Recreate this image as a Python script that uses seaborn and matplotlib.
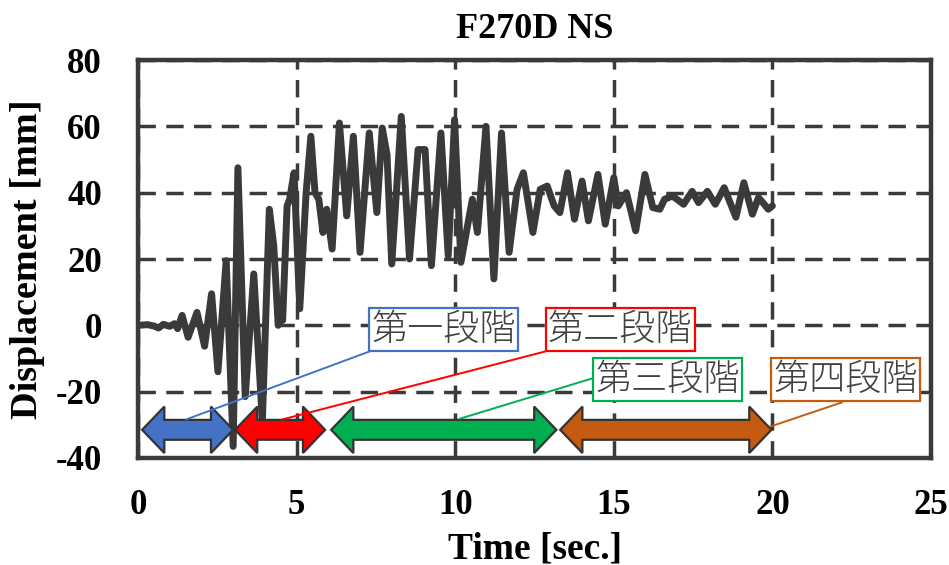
import matplotlib
matplotlib.use("Agg")
import matplotlib.pyplot as plt
import seaborn as sns
import pandas as pd
from matplotlib.patches import Polygon

# ---------------- data ----------------
time_s = [0.0, 0.3, 0.5, 0.65, 0.8, 1.0, 1.15, 1.25, 1.39, 1.58, 1.86, 2.1, 2.32, 2.52,
          2.78, 3.0, 3.15, 3.38, 3.65, 3.92, 4.14, 4.28, 4.42, 4.5, 4.56, 4.7, 4.78, 4.92,
          5.1, 5.3, 5.45, 5.58, 5.7, 5.83, 5.95, 6.12, 6.35, 6.58, 6.79, 7.0, 7.29, 7.53,
          7.7, 7.85, 8.0, 8.3, 8.56, 8.83, 9.05, 9.25, 9.55, 9.78, 9.98, 10.18, 10.54,
          10.7, 10.97, 11.22, 11.46, 11.7, 11.95, 12.15, 12.45, 12.68, 12.9, 13.12, 13.3,
          13.54, 13.76, 14.0, 14.2, 14.5, 14.73, 15.0, 15.14, 15.4, 15.69, 15.98, 16.23,
          16.45, 16.6, 16.85, 17.2, 17.47, 17.67, 17.95, 18.2, 18.48, 18.85, 19.1, 19.37,
          19.56, 19.7, 19.87, 20.0]
disp_mm = [0.0, 0.2, -0.2, -0.8, 0.3, -0.3, 0.5, -1.0, 3.0, -3.6, 3.9, -6.3, 9.5, -14.0,
           19.5, -36.5, 47.5, -21.5, 15.5, -29.0, 35.0, 24.0, 0.0, 3.0, 1.5, 36.0, 38.0, 46.0,
           5.0, 40.0, 57.0, 40.0, 38.0, 28.0, 35.0, 23.0, 61.0, 33.0, 57.0, 22.0, 58.0, 34.0,
           59.5, 51.5, 18.5, 63.0, 20.0, 53.0, 53.0, 18.0, 58.0, 21.0, 62.0, 19.0, 38.0,
           28.0, 60.0, 14.0, 58.0, 22.0, 41.0, 46.0, 28.0, 41.0, 42.0, 36.0, 34.0,
           46.0, 32.0, 43.5, 31.5, 45.5, 30.5, 44.5, 36.0, 40.0, 28.5, 45.5, 35.5,
           35.0, 38.0, 39.0, 36.5, 40.4, 37.0, 40.4, 36.5, 41.5, 32.6, 43.0, 33.5,
           38.5, 37.0, 35.0, 36.0]

stage_labels = ["第一段階", "第二段階", "第三段階", "第四段階"]
stage_start = [0.13, 3.06, 6.09, 13.31]
stage_end = [3.0, 5.9, 13.19, 19.97]
stage_colors = ["#4472C4", "#FF0000", "#00B050", "#C55A11"]
label_pos_x = [9.64, 15.2, 16.7, 22.3]
label_pos_y = [-1.2, -1.2, -16.3, -16.3]
leader_from = [(7.32, -7.8), (12.87, -7.8), (14.32, -16.0), (22.2, -23.2)]
leader_to = [(1.51, -28.4), (4.54, -28.4), (10.13, -28.2), (19.94, -30.5)]

x_ticks = [0, 5, 10, 15, 20, 25]
y_ticks = [-40, -20, 0, 20, 40, 60, 80]

df = pd.DataFrame({"Time [sec.]": time_s, "Displacement [mm]": disp_mm})

# ---------------- figure ----------------
sns.set_theme(style="white")
plt.rcParams["font.family"] = ["Liberation Serif", "DejaVu Serif"]
plt.rcParams["font.weight"] = "bold"
plt.rcParams["axes.unicode_minus"] = False

fig = plt.figure(figsize=(9.49, 5.65), dpi=100)
ax = fig.add_axes([138 / 949, 1 - 458 / 565, (931 - 138) / 949, (458 - 60) / 565])

dark = "#3a3a3a"
sns.lineplot(data=df, x="Time [sec.]", y="Displacement [mm]", ax=ax, color=dark,
             sort=False, zorder=3)
for ln in ax.get_lines():
    ln.set_linewidth(5.0)
    ln.set_solid_joinstyle("round")
    ln.set_solid_capstyle("round")

ax.set_xlim(0, 25)
ax.set_ylim(-40, 80)
ax.set_xticks(x_ticks)
ax.set_yticks(y_ticks)
ax.tick_params(axis="both", length=0, labelsize=25, colors="black")
ax.tick_params(axis="x", pad=22)
ax.tick_params(axis="y", pad=26)
for lab in ax.get_xticklabels() + ax.get_yticklabels():
    lab.set_fontweight("bold")

ax.grid(True, color=dark, linewidth=2.5, linestyle=(0, (5.0, 3.0)))
ax.set_axisbelow(True)
for sp in ax.spines.values():
    sp.set_color(dark)
    sp.set_linewidth(3.2)
    sp.set_visible(True)

ax.set_xlabel("Time [sec.]", fontsize=27, fontweight="bold", color="black", labelpad=7)
ax.set_ylabel("Displacement [mm]", fontsize=27.5, fontweight="bold", color="black", labelpad=8)
ax.set_title("F270D NS", fontsize=26, fontweight="bold", color="black", pad=16)

# stage arrows
yc, hb, hh, L = -31.5, 3.0, 7.0, 0.7
for x0, x1, c in zip(stage_start, stage_end, stage_colors):
    pts = [(x0, yc), (x0 + L, yc + hh), (x0 + L, yc + hb), (x1 - L, yc + hb),
           (x1 - L, yc + hh), (x1, yc), (x1 - L, yc - hh), (x1 - L, yc - hb),
           (x0 + L, yc - hb), (x0 + L, yc - hh)]
    ax.add_patch(Polygon(pts, closed=True, facecolor=c, edgecolor="#333333",
                         linewidth=1.6, zorder=5))

# leader lines and labels
for (fx, fy), (tx, ty), c in zip(leader_from, leader_to, stage_colors):
    ax.plot([fx, tx], [fy, ty], color=c, linewidth=1.4, zorder=6, clip_on=False)

for lab, lx, ly, c in zip(stage_labels, label_pos_x, label_pos_y, stage_colors):
    ax.text(lx, ly, lab, fontsize=26, family=["Noto Sans CJK JP", "DejaVu Sans"],
            fontweight="light", color="#404040", ha="center", va="center", zorder=7,
            bbox=dict(boxstyle="square,pad=0.06", facecolor="white", edgecolor=c,
                      linewidth=1.6), clip_on=False)

fig.savefig("out.png", dpi=100)
